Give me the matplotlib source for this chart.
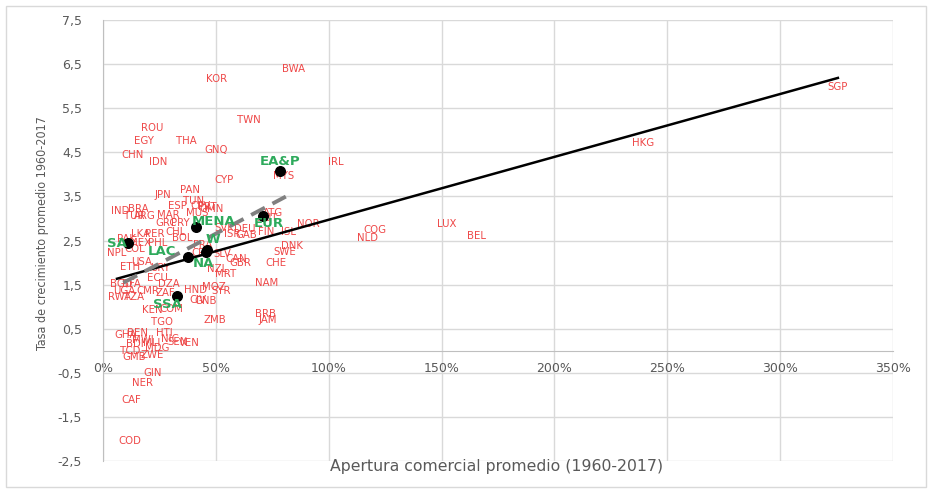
import numpy as np
import matplotlib
matplotlib.use("Agg")
import matplotlib.pyplot as plt
from matplotlib.patches import Rectangle
from matplotlib.ticker import FuncFormatter

# paises: apertura comercial promedio (%) y tasa de crecimiento promedio 1960-2017
paises = ["BWA", "KOR", "TWN", "SGP", "ROU", "THA", "EGY", "HKG", "CHN", "GNQ",
          "IDN", "IRL", "MYS", "CYP", "PAN", "JPN", "TUN", "ESP", "CPV", "PRT",
          "MUS", "OMN", "IND", "BRA", "TUR", "ARG", "MAR", "GRC", "PRY", "CHL",
          "LKA", "PER", "PAK", "MEX", "PHL", "BOL", "NPL", "COL", "SVK", "ISR",
          "GAB", "DEU", "FIN", "ISL", "NOR", "DNK", "SWE", "CHE", "NAM", "BRB",
          "JAM", "COG", "NLD", "LUX", "BEL", "ATG", "AUT", "FRA", "CRI", "SLV",
          "CAN", "GBR", "USA", "ETH", "URY", "ECU", "BGD", "BFA", "DZA", "UGA",
          "CMR", "ZAF", "RWA", "TZA", "KEN", "COM", "TGO", "HND", "MOZ", "SYR",
          "CIV", "GNB", "ZMB", "NZL", "MRT", "GHA", "BEN", "MWI", "HTI", "NIC",
          "SEN", "VEN", "BDI", "MLI", "MDG", "TCD", "GMB", "ZWE", "GIN", "NER",
          "CAF", "COD"]
apertura = [84.2, 50.5, 64.7, 325.6, 21.7, 36.8, 18.2, 239.2, 13.3, 50.1,
            24.4, 103.2, 80.2, 53.6, 38.5, 26.6, 40.3, 32.8, 43.0, 46.1,
            41.6, 48.3, 7.5, 15.5, 13.7, 18.6, 28.8, 27.9, 34.1, 32.3,
            16.4, 23.0, 10.6, 16.4, 24.4, 35.0, 6.2, 14.2, 53.6, 57.1,
            63.3, 62.9, 72.2, 82.0, 90.8, 83.7, 80.6, 76.6, 72.7, 71.8,
            73.1, 120.5, 117.0, 152.4, 165.7, 75.3, 73.1, 44.3, 43.0, 52.7,
            58.9, 60.7, 17.3, 12.0, 25.3, 23.9, 8.0, 12.4, 29.2, 9.3,
            19.9, 27.5, 7.5, 13.7, 21.7, 30.1, 26.1, 40.8, 49.2, 52.3,
            42.1, 45.6, 49.6, 50.5, 54.5, 10.2, 15.5, 17.7, 27.0, 29.7,
            33.2, 38.1, 14.2, 21.7, 23.9, 12.0, 13.7, 21.7, 22.2, 17.3,
            12.4, 12.0]
crecimiento = [6.39, 6.16, 5.23, 5.98, 5.05, 4.76, 4.76, 4.71, 4.44, 4.55,
               4.28, 4.28, 3.96, 3.87, 3.64, 3.53, 3.39, 3.28, 3.28, 3.26,
               3.12, 3.21, 3.17, 3.21, 3.05, 3.05, 3.08, 2.90, 2.90, 2.69,
               2.65, 2.65, 2.53, 2.44, 2.44, 2.56, 2.22, 2.31, 2.78, 2.65,
               2.62, 2.76, 2.69, 2.69, 2.87, 2.37, 2.24, 1.99, 1.54, 0.83,
               0.70, 2.74, 2.56, 2.87, 2.60, 3.12, 3.01, 2.40, 2.22, 2.19,
               2.08, 1.99, 2.01, 1.90, 1.88, 1.65, 1.51, 1.51, 1.51, 1.35,
               1.35, 1.31, 1.22, 1.22, 0.92, 0.94, 0.65, 1.38, 1.44, 1.35,
               1.15, 1.13, 0.70, 1.85, 1.74, 0.36, 0.40, 0.24, 0.40, 0.27,
               0.20, 0.17, 0.15, 0.17, 0.06, -0.01, -0.14, -0.10, -0.51, -0.73,
               -1.12, -2.05]

# regiones
regiones = ["EA&P", "MENA", "EUR", "SA", "LAC", "W", "NA", "SSA"]
reg_apertura = [78.4, 41.2, 70.9, 11.1, 37.7, 46.1, 45.6, 32.8]
reg_crecimiento = [4.08, 2.81, 3.05, 2.44, 2.12, 2.28, 2.24, 1.24]
# desplazamiento de la etiqueta (puntos)
reg_offset = [(0, 7), (13, 4), (4, -5), (-8, 0), (-19, 4), (4, 8), (-2, -8), (-7, -6)]

rojo = "#EE4646"
verde = "#2EAA5C"
gris = "#595959"

fig = plt.figure(figsize=(9.33, 4.93), dpi=100)
ax = fig.add_axes([0.1104, 0.0649, 0.8467, 0.8945])
fig.patches.append(Rectangle((6 / 933, 6 / 493), 920 / 933, 481 / 493, transform=fig.transFigure,
                             fill=False, edgecolor="#d9d9d9", lw=1))

ax.set_xlim(0, 350)
ax.set_ylim(-2.5, 7.5)
ax.set_xticks(np.arange(0, 351, 50))
ax.set_yticks(np.arange(-2.5, 7.6, 1.0))
ax.xaxis.set_major_formatter(FuncFormatter(lambda v, p: "%d%%" % v))
ax.yaxis.set_major_formatter(FuncFormatter(lambda v, p: ("%.1f" % v).replace(".", ",")))
ax.grid(True, color="#d9d9d9", lw=1)
ax.set_axisbelow(True)
for s in ["top", "right"]:
    ax.spines[s].set_visible(False)
ax.spines["left"].set_color("#bfbfbf")
ax.spines["bottom"].set_position(("data", 0))
ax.spines["bottom"].set_color("#bfbfbf")
ax.tick_params(axis="both", length=0, labelsize=9, labelcolor=gris)
ax.tick_params(axis="y", pad=15)
ax.tick_params(axis="x", pad=8)

# etiquetas de paises
for nom, xv, yv in zip(paises, apertura, crecimiento):
    ax.text(xv, yv, nom, color=rojo, fontsize=7.3, ha="center", va="center", zorder=3)

# tendencia paises
coef = np.polyfit(apertura, crecimiento, 1)
xs = np.array([min(apertura), max(apertura)])
ax.plot(xs, np.polyval(coef, xs), color="black", lw=1.8, zorder=4)

# tendencia regiones
coef_r = np.polyfit(reg_apertura, reg_crecimiento, 1)
xr = np.array([9, 81])
ax.plot(xr, np.polyval(coef_r, xr), color="#808080", lw=2.8, ls=(0, (4, 2.2)), zorder=4)

ax.scatter(reg_apertura, reg_crecimiento, s=48, color="black", zorder=5)
for nom, xv, yv, off in zip(regiones, reg_apertura, reg_crecimiento, reg_offset):
    ax.annotate(nom, (xv, yv), xytext=off, textcoords="offset points", ha="center", va="center",
                color=verde, fontsize=9.5, fontweight="bold", zorder=6)

fig.text(43 / 933, 1 - 233 / 493, "Tasa de crecimiento promedio 1960-2017", rotation=90,
         ha="center", va="center", fontsize=9, color=gris,
         family="DejaVu Sans", fontstretch="condensed")
fig.text(497 / 933, 1 - 467 / 493, "Apertura comercial promedio (1960-2017)",
         ha="center", va="center", fontsize=11.3, color=gris)

fig.savefig("out.png", dpi=100)
